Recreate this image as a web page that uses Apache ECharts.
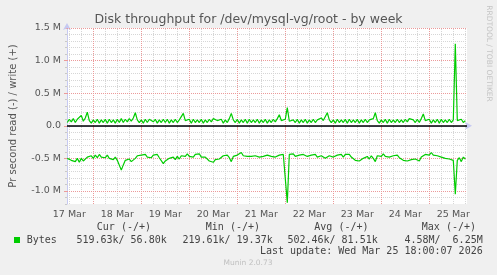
<!DOCTYPE html>
<html><head><meta charset="utf-8">
<script src="https://cdn.jsdelivr.net/npm/echarts@6/dist/echarts.min.js"></script>
<style>
html,body{margin:0;padding:0;background:#f0f0f0}
#wrap{position:relative;width:497px;height:275px}
#plotbg{position:absolute;left:67px;top:28px;width:400px;height:176px;background:#fff}
#c{position:absolute;left:0;top:0;width:497px;height:275px}
</style>
</head><body><div id="wrap"><div id="plotbg"></div><div id="c"></div></div>
<script>
// ---- data (hourly samples, values in M bytes/s) ----
const dayLabels = ['17 Mar','18 Mar','19 Mar','20 Mar','21 Mar','22 Mar','23 Mar','24 Mar','25 Mar'];
const yTickValues = [-1.0, -0.5, 0, 0.5, 1.0, 1.5];
const yTickLabels = ['-1.0 M','-0.5 M','0.0','0.5 M','1.0 M','1.5 M'];
const firstHour = 11;          // first sample: 17 Mar 11:00 (hours since 17 Mar 00:00)
const viewStart = 10.85, viewEnd = 210.85;
const writeVals = [
0.05,0.10,0.06,0.11,0.05,0.10,0.12,0.16,0.07,0.12,
0.21,0.08,0.04,0.09,0.05,0.10,0.04,0.09,0.05,0.10,
0.04,0.10,0.05,0.09,0.04,0.10,0.05,0.11,0.05,0.10,
0.06,0.11,0.07,0.12,0.20,0.09,0.05,0.09,0.04,0.10,
0.05,0.10,0.13,0.06,0.10,0.04,0.09,0.05,0.10,0.05,
0.10,0.04,0.09,0.05,0.10,0.05,0.09,0.10,0.19,0.08,
0.05,0.10,0.04,0.10,0.05,0.09,0.05,0.10,0.04,0.09,
0.05,0.10,0.06,0.11,0.13,0.08,0.05,0.10,0.04,0.09,
0.05,0.11,0.19,0.09,0.05,0.10,0.04,0.09,0.05,0.10,
0.04,0.10,0.05,0.09,0.05,0.10,0.04,0.09,0.05,0.10,
0.04,0.09,0.05,0.10,0.06,0.11,0.17,0.08,0.05,0.10,
0.28,0.07,0.04,0.09,0.05,0.10,0.04,0.09,0.05,0.10,
0.04,0.09,0.05,0.10,0.05,0.09,0.10,0.12,0.08,0.10,
0.20,0.09,0.05,0.09,0.04,0.10,0.05,0.09,0.05,0.10,
0.04,0.10,0.05,0.09,0.05,0.10,0.04,0.09,0.05,0.10,
0.05,0.09,0.06,0.11,0.20,0.08,0.04,0.09,0.05,0.10,
0.04,0.10,0.05,0.09,0.05,0.10,0.05,0.09,0.05,0.10,
0.06,0.11,0.13,0.09,0.05,0.10,0.05,0.11,0.18,0.08,
0.05,0.10,0.04,0.09,0.05,0.10,0.04,0.10,0.05,0.09,
0.05,0.10,0.05,0.09,1.26,0.08,0.05,0.10,0.05,0.08
];
const readVals = [
-0.50,-0.48,-0.53,-0.50,-0.55,-0.50,-0.56,-0.50,-0.54,-0.51,
-0.48,-0.51,-0.46,-0.50,-0.45,-0.49,-0.44,-0.48,-0.45,-0.49,
-0.45,-0.50,-0.47,-0.52,-0.48,-0.53,-0.56,-0.68,-0.60,-0.53,
-0.56,-0.51,-0.55,-0.58,-0.50,-0.46,-0.49,-0.45,-0.48,-0.44,
-0.48,-0.45,-0.49,-0.45,-0.48,-0.44,-0.49,-0.50,-0.58,-0.54,
-0.56,-0.50,-0.51,-0.48,-0.52,-0.47,-0.51,-0.46,-0.45,-0.47,
-0.43,-0.47,-0.44,-0.48,-0.44,-0.47,-0.43,-0.48,-0.47,-0.48,
-0.50,-0.54,-0.51,-0.56,-0.52,-0.55,-0.51,-0.51,-0.46,-0.49,
-0.45,-0.49,-0.55,-0.47,-0.44,-0.45,-0.45,-0.41,-0.46,-0.43,
-0.47,-0.46,-0.47,-0.49,-0.46,-0.47,-0.48,-0.46,-0.47,-0.46,
-0.45,-0.42,-0.47,-0.44,-0.48,-0.45,-0.45,-0.47,-0.44,-0.47,
-1.18,-0.44,-0.47,-0.43,-0.47,-0.44,-0.45,-0.47,-0.44,-0.45,
-0.47,-0.44,-0.45,-0.47,-0.44,-0.48,-0.45,-0.46,-0.48,-0.50,
-0.53,-0.46,-0.46,-0.48,-0.45,-0.45,-0.47,-0.44,-0.48,-0.44,
-0.47,-0.44,-0.48,-0.50,-0.53,-0.50,-0.54,-0.51,-0.50,-0.53,
-0.47,-0.51,-0.46,-0.50,-0.55,-0.46,-0.45,-0.47,-0.43,-0.47,
-0.44,-0.48,-0.45,-0.46,-0.48,-0.45,-0.49,-0.50,-0.53,-0.50,
-0.54,-0.51,-0.52,-0.53,-0.51,-0.51,-0.54,-0.48,-0.47,-0.44,
-0.43,-0.45,-0.41,-0.45,-0.42,-0.46,-0.43,-0.48,-0.45,-0.50,
-0.52,-0.51,-0.51,-0.53,-1.05,-0.53,-0.49,-0.55,-0.48,-0.51
];
const legendHeaders = ['Cur (-/+)','Min (-/+)','Avg (-/+)','Max (-/+)'];
const legendValues = ['519.63k/ 56.80k','219.61k/ 19.37k','502.46k/ 81.51k','4.58M/  6.25M'];
const seriesName = 'Bytes';
const lastUpdate = 'Last update: Wed Mar 25 18:00:07 2026';

// ---- derived tick positions ----
const sixHourTicks = [], midnightTicks = [], noonTicks = [], minorYTicks = [];
for (let h = 0; h <= viewEnd; h += 6) if (h >= viewStart) sixHourTicks.push(h);
for (let d = 1; d <= 8; d++) midnightTicks.push(d * 24);
dayLabels.forEach((_, i) => noonTicks.push(12 + 24 * i));
for (let k = -11; k <= 15; k++) if (k % 5 !== 0) minorYTicks.push(k / 10);

const writeData = writeVals.map((v, i) => [firstHour + i, v]);
const readData = readVals.map((v, i) => [firstHour + i, v]);

const axisCol = '#c6c9f2', minorCol = '#d6d6d6', majorCol = '#eb9a9a', txtCol = '#555';
const minorStyle = {color: minorCol, type: [1, 1], width: 1};
const majorStyle = {color: majorCol, type: [1, 1], width: 1};
const gridLines = [];
sixHourTicks.filter(h => h % 24 !== 0).forEach(h => gridLines.push({xAxis: h, lineStyle: minorStyle}));
minorYTicks.forEach(v => gridLines.push({yAxis: v, lineStyle: minorStyle}));
midnightTicks.forEach(h => gridLines.push({xAxis: h, lineStyle: majorStyle}));
yTickValues.filter(v => v !== 0).forEach(v => gridLines.push({yAxis: v, lineStyle: majorStyle}));
gridLines.push({yAxis: 0, lineStyle: {color: '#000', type: 'solid', width: 1.5}});

const chart = echarts.init(document.getElementById('c'), null, {renderer: 'canvas'});
const mono = '"DejaVu Sans Mono", monospace';
const gfx = [];
gfx.push({type:'text', left: 'center', top: 13.5, style:{text:'Disk throughput for /dev/mysql-vg/root - by week', font:'12.5px "DejaVu Sans"', fill:'#555'}});
gfx.push({type:'text', x: 489, y: 53.5, rotation: -Math.PI/2, style:{text:'RRDTOOL / TOBI OETIKER', font:'7.5px "DejaVu Sans"', fill:'#c4c4c4', align:'center', verticalAlign:'middle'}});
const hdrRight = [151, 260, 368.5, 476];
legendHeaders.forEach((t, i) => gfx.push({type:'text', x: hdrRight[i], y: 227.5, style:{text:t, font:'10px '+mono, fill:'#444', align:'right', verticalAlign:'middle'}}));
const valRight = [166.7, 272.7, 377.7, 482.7];
legendValues.forEach((t, i) => gfx.push({type:'text', x: valRight[i], y: 240, style:{text:t, font:'10px '+mono, fill:'#444', align:'right', verticalAlign:'middle'}}));
gfx.push({type:'rect', shape:{x:14, y:237, width:6, height:6}, style:{fill:'#00cc00'}});
gfx.push({type:'text', x: 26.7, y: 240, style:{text:seriesName, font:'10px '+mono, fill:'#444', align:'left', verticalAlign:'middle'}});
gfx.push({type:'text', x: 482.7, y: 251.8, style:{text:lastUpdate, font:'10px '+mono, fill:'#444', align:'right', verticalAlign:'middle'}});
gfx.push({type:'text', x: 248, y: 263.3, style:{text:'Munin 2.0.73', font:'7.5px "DejaVu Sans"', fill:'#c0c0c0', align:'center', verticalAlign:'middle'}});

const option = {
  animation: false,
  backgroundColor: 'transparent',
  grid: {left: 67, right: 30, top: 28, height: 176},
  xAxis: [
    {type:'value', min: viewStart, max: viewEnd, position:'bottom',
     axisLine:{show:true, lineStyle:{color:axisCol, width:1}, symbol:['none','arrow'], symbolSize:[6,7], symbolOffset:[0,5]},
     axisTick:{show:true, customValues: sixHourTicks, length:2, lineStyle:{color:'#c8c8c8'}},
     axisLabel:{show:false}, splitLine:{show:false}},
    {type:'value', min: viewStart, max: viewEnd, position:'bottom',
     axisLine:{show:false},
     axisTick:{show:true, customValues: midnightTicks, length:3, lineStyle:{color:majorCol}},
     axisLabel:{show:true, customValues: noonTicks, margin: 6, color: txtCol, fontFamily:'DejaVu Sans', fontSize: 9.5,
       formatter: v => dayLabels[Math.round((v - 12) / 24)]},
     splitLine:{show:false}}
  ],
  yAxis: [
    {type:'value', min:-1.2, max:1.5, interval:0.1,
     axisLine:{show:true, lineStyle:{color:axisCol, width:1}, symbol:['none','arrow'], symbolSize:[6,7], symbolOffset:[0,5]},
     axisTick:{show:true, length:2, lineStyle:{color:'#c8c8c8'}},
     axisLabel:{show:false}, splitLine:{show:false}},
    {type:'value', min:-1.2, max:1.5, position:'left',
     axisLine:{show:false},
     axisTick:{show:true, customValues: yTickValues, length:3, lineStyle:{color:majorCol}},
     axisLabel:{show:true, customValues: yTickValues, margin: 6, color: txtCol, fontFamily:'DejaVu Sans', fontSize: 9.5,
       formatter: v => yTickLabels[yTickValues.findIndex(t => Math.abs(t - v) < 1e-6)]},
     splitLine:{show:false},
     name:'Pr second read (-) / write (+)', nameLocation:'middle', nameGap: 49, nameRotate: 90,
     nameTextStyle:{color: txtCol, fontFamily:'DejaVu Sans', fontSize: 10}}
  ],
  series: [
    {type:'line', name:'grid', xAxisIndex:0, yAxisIndex:0, data: readData, showSymbol:false, symbol:'none',
     lineStyle:{opacity:0, width:0}, z: 1, silent: true,
     markLine:{silent:true, symbol:['none','none'], label:{show:false}, precision: 4, data: gridLines}},
    {type:'line', name:'write', xAxisIndex:0, yAxisIndex:0, data: writeData, showSymbol:false, symbol:'none',
     lineStyle:{color:'#00cc00', width:1.2}, z: 10},
    {type:'line', name:'read', xAxisIndex:0, yAxisIndex:0, data: readData, showSymbol:false, symbol:'none',
     lineStyle:{color:'#00cc00', width:1.2}, z: 10}
  ],
  graphic: gfx
};
chart.setOption(option);
</script></body></html>
